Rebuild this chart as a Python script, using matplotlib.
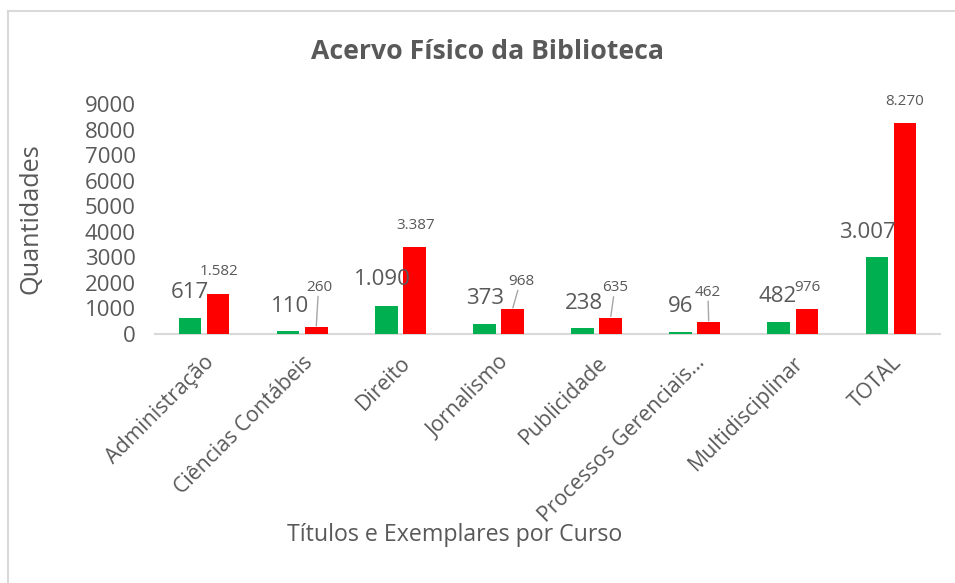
import matplotlib
matplotlib.use("Agg")
import matplotlib.pyplot as plt
from matplotlib.lines import Line2D
import numpy as np

categories = ["Administração", "Ciências Contábeis", "Direito", "Jornalismo",
              "Publicidade", "Processos Gerenciais…", "Multidisciplinar", "TOTAL"]
titulos = [617, 110, 1090, 373, 238, 96, 482, 3007]
exemplares = [1582, 260, 3387, 968, 635, 462, 976, 8270]
titulos_labels = ["617", "110", "1.090", "373", "238", "96", "482", "3.007"]
exemplares_labels = ["1.582", "260", "3.387", "968", "635", "462", "976", "8.270"]
yticks = [0, 1000, 2000, 3000, 4000, 5000, 6000, 7000, 8000, 9000]

# label offsets (pixels: dx, dy above bar top)
g_off = [(0, 26), (2, 25), (-4, 27), (1, 25.5), (1, 24), (0, 25.5), (-1, 25), (-9, 25)]
r_off = [(1, 21.6), (3, 40), (1, 22), (9, 28), (5, 30), (-1, 30), (1, 22), (0, 21.6)]
leader = [False, True, False, True, True, True, False, False]

FONT = ["Open Sans", "DejaVu Sans"]
plt.rcParams["font.family"] = FONT
GRAY = "#595959"
GREEN = "#00B050"
RED = "#FF0000"

W, H = 955, 583
fig = plt.figure(figsize=(W / 100, H / 100), dpi=100)
ax = fig.add_axes([155 / W, 1 - 334 / H, (940 - 155) / W, (334 - 104) / H])

x = np.arange(len(categories))
bw = 0.23
off = 0.143
ax.bar(x - off, titulos, bw, color=GREEN, zorder=3)
ax.bar(x + off, exemplares, bw, color=RED, zorder=3)

ax.set_xlim(-0.5, len(categories) - 0.5)
ax.set_ylim(0, 9000)
ax.set_yticks(yticks)
ax.set_yticklabels([str(v) for v in yticks])
ax.tick_params(axis="y", length=0, labelsize=16, labelcolor=GRAY, pad=14)
ax.set_xticks(x)
ax.set_xticklabels(categories, rotation=45, ha="right", va="top",
                   rotation_mode="anchor")
ax.tick_params(axis="x", length=0, labelsize=15.3, labelcolor=GRAY, pad=13)
for s in ["top", "right", "left"]:
    ax.spines[s].set_visible(False)
ax.spines["bottom"].set_color("#D9D9D9")
ax.spines["bottom"].set_linewidth(1.5)

px = 72 / 100
for i in range(len(categories)):
    dx, dy = g_off[i]
    ax.annotate(titulos_labels[i], (x[i] - off, titulos[i]),
                xytext=(dx * px, dy * px), textcoords="offset points",
                ha="center", va="center", fontsize=16, color=GRAY, zorder=4)
    dx, dy = r_off[i]
    ax.annotate(exemplares_labels[i], (x[i] + off, exemplares[i]),
                xytext=(dx * px, dy * px), textcoords="offset points",
                ha="center", va="center", fontsize=11, color=GRAY, zorder=4)
    if leader[i]:
        ax.annotate("", (x[i] + off, exemplares[i]),
                    xytext=(dx * 0.6 * px, (dy - 9) * px), textcoords="offset points",
                    arrowprops=dict(arrowstyle="-", color="#A6A6A6", lw=1,
                                    shrinkA=0, shrinkB=1))

ax.set_ylabel("Quantidades", fontsize=18.2, color=GRAY)
ax.set_xlabel("Títulos e Exemplares por Curso", fontsize=16.7, color=GRAY)
ax.yaxis.set_label_coords(-(155 - 43) / (940 - 155), 0.5)
fig.text(487 / W, 1 - 52 / H, "Acervo Físico da Biblioteca", ha="center", va="center",
         fontsize=19.2, fontweight="bold", color=GRAY)
ax.xaxis.set_label_coords(0.5 + (455 - 547.5) / (940 - 155), -(523 - 334) / (334 - 104))

# chart border (left and top edges visible)
fig.add_artist(Line2D([7.5 / W, 7.5 / W], [0, 1 - 11 / H], transform=fig.transFigure,
                      color="#D9D9D9", lw=1.5))
fig.add_artist(Line2D([7.5 / W, 1], [1 - 11 / H, 1 - 11 / H], transform=fig.transFigure,
                      color="#D9D9D9", lw=1.5))

fig.savefig("out.png", dpi=100, facecolor="white")
